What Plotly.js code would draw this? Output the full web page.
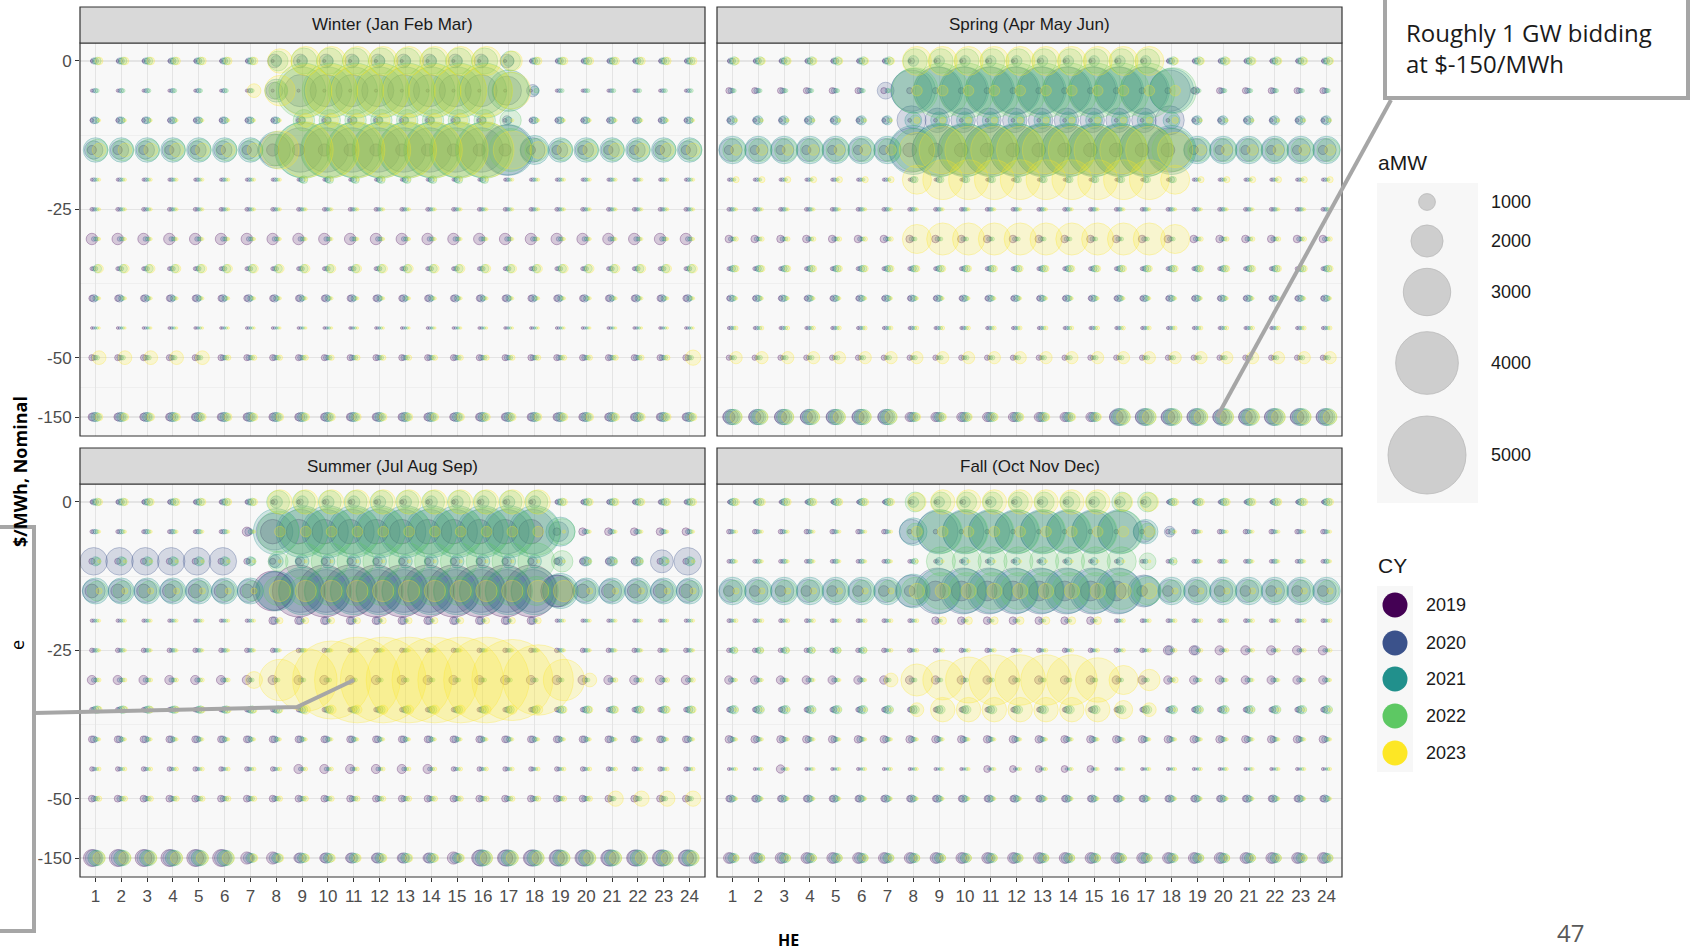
<!DOCTYPE html>
<html><head><meta charset="utf-8">
<script src="https://cdn.plot.ly/plotly-3.0.1.min.js"></script>
<style>html,body{margin:0;padding:0;background:#fff;overflow:hidden}#chart{width:1691px;height:951px}</style>
</head><body><div id="chart"></div>
<script>
// ---------- categories / labels ----------
const hours = [1,2,3,4,5,6,7,8,9,10,11,12,13,14,15,16,17,18,19,20,21,22,23,24];
const priceLevels = [0,-5,-10,-15,-20,-25,-30,-35,-40,-45,-50,-150];
const yTickPrices = [0,-25,-50,-150];
const yTickLabels = ['0','-25','-50','-150'];
const years = [2019,2020,2021,2022,2023];
const yearColors = ['#440154','#3B528B','#21908C','#5DC863','#FDE725'];
const sizeLegendValues = [1000,2000,3000,4000,5000];
const seasonTitles = ['Winter (Jan Feb Mar)','Spring (Apr May Jun)','Summer (Jul Aug Sep)','Fall (Oct Nov Dec)'];

// ---------- aMW by price level (rows) x hour ending (columns) ----------
const winter2019 = [
[100,100,100,100,100,100,100,100,100,100,100,100,100,100,100,100,100,100,100,100,100,100,100,100],
[100,100,100,100,100,100,100,100,100,100,100,100,100,100,100,100,100,100,100,100,100,100,100,100],
[150,150,150,150,150,150,150,150,150,150,150,150,150,150,150,150,150,150,150,150,150,150,150,150],
[500,500,500,500,500,500,500,700,700,700,700,700,700,700,700,700,700,500,500,500,500,500,500,500],
[100,100,100,100,100,100,100,100,100,100,100,100,100,100,100,100,100,100,100,100,100,100,100,100],
[150,150,150,150,150,150,150,150,150,150,150,150,150,150,150,150,150,150,150,150,150,150,150,150],
[650,650,650,650,650,650,650,650,650,650,650,650,650,650,650,650,650,650,650,650,650,650,650,650],
[150,150,150,150,150,150,150,150,150,150,150,150,150,150,150,150,150,150,150,150,150,150,150,150],
[300,300,300,300,300,300,300,300,300,300,300,300,300,300,300,300,300,300,300,300,300,300,300,300],
[80,80,80,80,80,80,80,80,80,80,80,80,80,80,80,80,80,80,80,80,80,80,80,80],
[300,300,300,300,300,300,300,300,300,300,300,300,300,300,300,300,300,300,300,300,300,300,300,300],
[400,400,400,400,400,400,400,400,400,400,400,400,400,400,400,400,400,400,400,400,400,400,400,400]];
const winter2020 = [
[300,300,300,300,300,300,300,800,800,800,800,800,800,800,800,800,800,300,300,300,300,300,300,300],
[150,150,150,150,150,150,150,1000,2000,2000,2000,2000,2000,2000,2000,2000,1800,700,150,150,150,150,150,150],
[350,350,350,350,350,350,350,350,500,500,500,500,500,500,500,500,500,350,350,350,350,350,350,350],
[1100,1100,1100,1100,1100,1100,1100,2000,2800,2800,2800,2800,2800,2800,2800,2800,3200,1500,1100,1100,1100,1100,1100,1100],
[150,150,150,150,150,150,150,150,150,150,150,150,150,150,150,150,150,150,150,150,150,150,150,150],
[150,150,150,150,150,150,150,150,150,150,150,150,150,150,150,150,150,150,150,150,150,150,150,150],
[200,200,200,200,200,200,200,200,200,200,200,200,200,200,200,200,200,200,200,200,200,200,200,200],
[200,200,200,200,200,200,200,200,200,200,200,200,200,200,200,200,200,200,200,200,200,200,200,200],
[400,400,400,400,400,400,400,400,400,400,400,400,400,400,400,400,400,400,400,400,400,400,400,400],
[80,80,80,80,80,80,80,80,80,80,80,80,80,80,80,80,80,80,80,80,80,80,80,80],
[250,250,250,250,250,250,250,250,250,250,250,250,250,250,250,250,250,250,250,250,250,250,250,250],
[500,500,500,500,500,500,500,500,500,500,500,500,500,500,500,500,500,500,500,500,500,500,500,500]];
const winter2021 = [
[300,300,300,300,300,300,300,600,600,600,600,600,600,600,600,600,600,300,300,300,300,300,300,300],
[200,200,200,200,200,200,200,1400,3000,3000,3000,3000,3000,3000,3000,3000,2600,500,150,150,150,150,150,150],
[350,350,350,350,350,350,350,350,350,350,350,350,350,350,350,350,350,350,350,350,350,350,350,350],
[1500,1500,1500,1500,1500,1500,1500,2300,3500,3500,3500,3500,3500,3500,3500,3500,3200,1800,1500,1500,1500,1500,1500,1500],
[120,120,120,120,120,120,120,120,300,300,300,300,300,300,300,300,120,120,120,120,120,120,120,120],
[120,120,120,120,120,120,120,120,120,120,120,120,120,120,120,120,120,120,120,120,120,120,120,120],
[150,150,150,150,150,150,150,150,150,150,150,150,150,150,150,150,150,150,150,150,150,150,150,150],
[200,200,200,200,200,200,200,200,200,200,200,200,200,200,200,200,200,200,200,200,200,200,200,200],
[250,250,250,250,250,250,250,250,250,250,250,250,250,250,250,250,250,250,250,250,250,250,250,250],
[60,60,60,60,60,60,60,60,60,60,60,60,60,60,60,60,60,60,60,60,60,60,60,60],
[200,200,200,200,200,200,200,200,200,200,200,200,200,200,200,200,200,200,200,200,200,200,200,200],
[500,500,500,500,500,500,500,500,500,500,500,500,500,500,500,500,500,500,500,500,500,500,500,500]];
const winter2022 = [
[400,400,400,400,400,400,400,1200,1600,1600,1600,1600,1600,1600,1600,1600,1200,400,400,400,400,400,400,400],
[150,150,150,150,150,150,150,1100,3500,3500,3500,3500,3500,3500,3500,3500,2300,200,150,150,150,150,150,150],
[200,200,200,200,200,200,200,200,1300,1300,1300,1300,1300,1300,1300,1300,1300,200,200,200,200,200,200,200],
[1300,1300,1300,1300,1300,1300,1300,2000,3600,3600,3600,3600,3600,3600,3600,3600,2700,1400,1300,1300,1300,1300,1300,1300],
[100,100,100,100,100,100,100,100,400,400,400,400,400,400,400,400,100,100,100,100,100,100,100,100],
[120,120,120,120,120,120,120,120,120,120,120,120,120,120,120,120,120,120,120,120,120,120,120,120],
[150,150,150,150,150,150,150,150,150,150,150,150,150,150,150,150,150,150,150,150,150,150,150,150],
[450,450,450,450,450,450,450,450,450,450,450,450,450,450,450,450,450,450,450,450,450,450,450,450],
[150,150,150,150,150,150,150,150,150,150,150,150,150,150,150,150,150,150,150,150,150,150,150,150],
[60,60,60,60,60,60,60,60,60,60,60,60,60,60,60,60,60,60,60,60,60,60,60,60],
[200,200,200,200,200,200,200,200,200,200,200,200,200,200,200,200,200,200,200,200,200,200,200,200],
[450,450,450,450,450,450,450,450,450,450,450,450,450,450,450,450,450,450,450,450,450,450,450,450]];
const winter2023 = [
[400,400,400,400,400,400,400,1500,1800,1800,1800,1800,1800,1800,1800,1800,1200,400,400,400,400,400,400,400],
[0,0,0,0,0,0,800,1900,3300,3300,3300,3300,3300,3300,3300,3300,2300,0,0,0,0,0,0,0],
[100,100,100,100,100,100,100,100,800,800,800,800,800,800,800,800,100,100,100,100,100,100,100,100],
[800,800,800,800,800,800,800,2400,3500,3500,3500,3500,3500,3500,3500,3500,2400,1000,800,800,800,800,800,800],
[100,100,100,100,100,100,100,100,100,100,100,100,100,100,100,100,100,100,100,100,100,100,100,100],
[100,100,100,100,100,100,100,100,100,100,100,100,100,100,100,100,100,100,100,100,100,100,100,100],
[100,100,100,100,100,100,100,100,100,100,100,100,100,100,100,100,100,100,100,100,100,100,100,100],
[450,450,450,450,450,450,450,450,450,450,450,450,450,450,450,450,450,450,450,450,450,450,450,450],
[100,100,100,100,100,100,100,100,100,100,100,100,100,100,100,100,100,100,100,100,100,100,100,100],
[60,60,60,60,60,60,60,60,60,60,60,60,60,60,60,60,60,60,60,60,60,60,60,60],
[800,800,800,800,800,250,250,250,250,250,250,250,250,250,250,250,250,250,250,250,250,250,250,900],
[400,400,400,400,400,400,400,400,400,400,400,400,400,400,400,400,400,400,400,400,400,400,400,400]];

const spring2019 = [
[100,100,100,100,100,100,100,100,100,100,100,100,100,100,100,100,100,100,100,100,100,100,100,100],
[300,300,300,300,300,300,300,300,300,300,300,300,300,300,300,300,300,300,300,300,300,300,300,300],
[150,150,150,150,150,150,150,150,150,150,150,150,150,150,150,150,150,150,150,150,150,150,150,150],
[500,500,500,500,500,500,500,800,800,800,800,800,800,800,800,800,800,800,500,500,500,500,500,500],
[100,100,100,100,100,100,100,100,100,100,100,100,100,100,100,100,100,100,100,100,100,100,100,100],
[150,150,150,150,150,150,150,150,150,150,150,150,150,150,150,150,150,150,150,150,150,150,150,150],
[400,400,400,400,400,400,400,400,400,400,400,400,400,400,400,400,400,400,400,400,400,400,400,400],
[150,150,150,150,150,150,150,150,150,150,150,150,150,150,150,150,150,150,150,150,150,150,150,150],
[200,200,200,200,200,200,200,200,200,200,200,200,200,200,200,200,200,200,200,200,200,200,200,200],
[100,100,100,100,100,100,100,100,100,100,100,100,100,100,100,100,100,100,100,100,100,100,100,100],
[250,250,250,250,250,250,250,250,250,250,250,250,250,250,250,250,250,250,250,250,250,250,250,250],
[700,700,700,700,700,700,700,500,500,500,500,500,500,500,500,800,800,800,800,800,800,800,800,800]];
const spring2020 = [
[300,300,300,300,300,300,300,300,300,300,300,300,300,300,300,300,300,300,300,300,300,300,300,300],
[250,250,250,250,250,250,1000,2600,3000,3000,3000,3000,3000,3000,3000,3000,3000,2600,400,250,250,250,250,250],
[400,400,400,400,400,400,400,1800,1500,1500,1500,1500,1500,1500,1500,1500,1500,1800,400,400,400,400,400,400],
[1400,1400,1400,1400,1400,1400,1400,2800,3200,3200,3200,3200,3200,3200,3200,3200,3200,2800,1400,1400,1400,1400,1400,1400],
[150,150,150,150,150,150,150,150,150,150,150,150,150,150,150,150,150,150,150,150,150,150,150,150],
[150,150,150,150,150,150,150,150,150,150,150,150,150,150,150,150,150,150,150,150,150,150,150,150],
[200,200,200,200,200,200,200,200,200,200,200,200,200,200,200,200,200,200,200,200,200,200,200,200],
[200,200,200,200,200,200,200,200,200,200,200,200,200,200,200,200,200,200,200,200,200,200,200,200],
[350,350,350,350,350,350,350,350,350,350,350,350,350,350,350,350,350,350,350,350,350,350,350,350],
[150,150,150,150,150,150,150,150,150,150,150,150,150,150,150,150,150,150,150,150,150,150,150,150],
[150,150,150,150,150,150,150,150,150,150,150,150,150,150,150,150,150,150,150,150,150,150,150,150],
[900,900,900,900,900,900,900,500,500,500,500,500,500,500,500,1000,1000,1000,1000,1000,1000,1000,1000,1000]];
const spring2021 = [
[300,300,300,300,300,300,300,600,600,600,600,600,600,600,600,600,600,300,300,300,300,300,300,300],
[200,200,200,200,200,200,200,2800,3000,3000,3000,3000,3000,3000,3000,3000,3000,2800,200,200,200,200,200,200],
[500,500,500,500,500,500,500,1000,1000,1000,1000,1000,1000,1000,1000,1000,1000,1000,500,500,500,500,500,500],
[1700,1700,1700,1700,1700,1700,1700,3100,3400,3400,3400,3400,3400,3400,3400,3400,3400,3100,1700,1700,1700,1700,1700,1700],
[100,100,100,100,100,100,100,300,300,300,300,300,300,300,300,300,300,300,100,100,100,100,100,100],
[150,150,150,150,150,150,150,150,150,150,150,150,150,150,150,150,150,150,150,150,150,150,150,150],
[150,150,150,150,150,150,150,150,150,150,150,150,150,150,150,150,150,150,150,150,150,150,150,150],
[300,300,300,300,300,300,300,300,300,300,300,300,300,300,300,300,300,300,300,300,300,300,300,300],
[300,300,300,300,300,300,300,300,300,300,300,300,300,300,300,300,300,300,300,300,300,300,300,300],
[100,100,100,100,100,100,100,100,100,100,100,100,100,100,100,100,100,100,100,100,100,100,100,100],
[150,150,150,150,150,150,150,150,150,150,150,150,150,150,150,150,150,150,150,150,150,150,150,150],
[900,900,900,900,900,900,900,500,500,500,500,500,500,500,500,1000,1000,1000,1000,1000,1000,1000,1000,1000]];
const spring2022 = [
[450,450,450,450,450,450,450,1500,1500,1500,1500,1500,1500,1500,1500,1500,1500,450,450,450,450,450,450,450],
[150,150,150,150,150,150,150,2900,3500,3500,3500,3500,3500,3500,3500,3500,3500,2900,150,150,150,150,150,150],
[200,200,200,200,200,200,200,600,600,600,600,600,600,600,600,600,600,600,200,200,200,200,200,200],
[1400,1400,1400,1400,1400,1400,1400,2700,3300,3300,3300,3300,3300,3300,3300,3300,3300,2700,1400,1400,1400,1400,1400,1400],
[100,100,100,100,100,100,100,300,300,300,300,300,300,300,300,300,300,300,100,100,100,100,100,100],
[120,120,120,120,120,120,120,120,120,120,120,120,120,120,120,120,120,120,120,120,120,120,120,120],
[150,150,150,150,150,150,150,150,150,150,150,150,150,150,150,150,150,150,150,150,150,150,150,150],
[350,350,350,350,350,350,350,350,350,350,350,350,350,350,350,350,350,350,350,350,350,350,350,350],
[200,200,200,200,200,200,200,200,200,200,200,200,200,200,200,200,200,200,200,200,200,200,200,200],
[120,120,120,120,120,120,120,120,120,120,120,120,120,120,120,120,120,120,120,120,120,120,120,120],
[200,200,200,200,200,200,200,200,200,200,200,200,200,200,200,200,200,200,200,200,200,200,200,200],
[900,900,900,900,900,900,900,500,500,500,500,500,500,500,500,1000,1000,1000,1000,1000,1000,1000,1000,1000]];
const spring2023 = [
[350,350,350,350,350,350,350,1800,1800,1800,1800,1800,1800,1800,1800,1800,1800,350,350,350,350,350,350,350],
[0,0,0,0,0,0,0,600,600,600,600,600,600,600,600,600,600,600,0,0,0,0,0,0],
[100,100,100,100,100,100,100,300,300,300,300,300,300,300,300,300,300,300,100,100,100,100,100,100],
[600,600,600,600,600,600,600,2200,3000,3000,3000,3000,3000,3000,3000,3000,3000,2200,600,600,600,600,600,600],
[300,300,300,300,300,300,300,1800,2500,2500,2500,2500,2500,2500,2500,2500,2500,1800,300,300,300,300,300,300],
[100,100,100,100,100,100,100,100,100,100,100,100,100,100,100,100,100,100,100,100,100,100,100,100],
[200,200,200,200,200,200,200,1800,2000,2000,2000,2000,2000,2000,2000,2000,2000,1800,200,200,200,200,200,200],
[300,300,300,300,300,300,300,300,300,300,300,300,300,300,300,300,300,300,300,300,300,300,300,300],
[100,100,100,100,100,100,100,100,100,100,100,100,100,100,100,100,100,100,100,100,100,100,100,100],
[150,150,150,150,150,150,150,150,150,150,150,150,150,150,150,150,150,150,150,150,150,150,150,150],
[700,700,700,700,700,700,700,700,700,700,700,700,700,700,700,700,700,700,700,700,700,700,700,700],
[700,700,700,700,700,700,700,400,400,400,400,400,400,400,400,800,800,800,800,800,800,800,800,800]];

const summer2019 = [
[150,150,150,150,150,150,150,150,150,150,150,150,150,150,150,150,150,150,150,150,150,150,150,150],
[150,150,150,150,150,150,500,1500,1500,1500,1500,1500,1500,1500,1500,1500,1500,1500,400,400,400,400,400,400],
[300,300,300,300,300,300,300,300,300,300,300,300,300,300,300,300,300,300,300,300,300,300,300,300],
[800,800,800,800,800,800,800,2500,3300,3300,3300,3300,3300,3300,3300,3300,3300,3300,2000,800,800,800,800,800],
[120,120,120,120,120,120,120,400,400,400,400,400,400,400,400,400,400,400,120,120,120,120,120,120],
[200,200,200,200,200,200,200,200,200,200,200,200,200,200,200,200,200,200,200,200,200,200,200,200],
[500,500,500,500,500,500,500,500,500,500,500,500,500,500,500,500,500,500,500,500,500,500,500,500],
[200,200,200,200,200,200,200,200,200,200,200,200,200,200,200,200,200,200,200,200,200,200,200,200],
[350,350,350,350,350,350,350,350,350,350,350,350,350,350,350,350,350,350,350,350,350,350,350,350],
[200,200,200,200,200,200,200,200,500,500,500,500,500,500,200,200,200,200,200,200,200,200,200,200],
[350,350,350,350,350,350,350,350,350,350,350,350,350,350,350,350,350,350,350,350,350,350,350,350],
[1000,1000,1000,1000,1000,1000,700,700,500,500,500,500,500,500,700,900,900,900,900,900,900,900,900,900]];
const summer2020 = [
[300,300,300,300,300,300,300,300,300,300,300,300,300,300,300,300,300,300,300,300,300,300,300,300],
[200,200,200,200,200,200,400,2300,2800,2800,2800,2800,2800,2800,2800,2800,2800,2800,1200,200,200,200,200,200],
[1700,1700,1700,1700,1700,1700,200,700,500,500,500,500,500,500,500,500,500,500,400,500,500,500,1400,1700],
[1400,1400,1400,1400,1400,1400,1400,2400,2700,2700,2700,2700,2700,2700,2700,2700,2700,2700,2000,1400,1400,1400,1400,1400],
[120,120,120,120,120,120,120,400,400,400,400,400,400,400,400,400,400,400,120,120,120,120,120,120],
[150,150,150,150,150,150,150,150,150,150,150,150,150,150,150,150,150,150,150,150,150,150,150,150],
[200,200,200,200,200,200,200,200,200,200,200,200,200,200,200,200,200,200,200,200,200,200,200,200],
[250,250,250,250,250,250,250,250,250,250,250,250,250,250,250,250,250,250,250,250,250,250,250,250],
[350,350,350,350,350,350,350,350,350,350,350,350,350,350,350,350,350,350,350,350,350,350,350,350],
[150,150,150,150,150,150,150,150,150,150,150,150,150,150,150,150,150,150,150,150,150,150,150,150],
[250,250,250,250,250,250,250,250,250,250,250,250,250,250,250,250,250,250,250,250,250,250,250,250],
[1000,1000,1000,1000,1000,1000,600,600,600,600,600,600,600,600,600,1000,1000,1000,1000,1000,1000,1000,1000,1000]];
const summer2021 = [
[300,300,300,300,300,300,300,700,700,700,700,700,700,700,700,700,700,700,300,300,300,300,300,300],
[200,200,200,200,200,200,200,2900,3300,3300,3300,3300,3300,3300,3300,3300,3300,3300,1800,200,200,200,200,200],
[500,500,500,500,500,500,500,800,800,800,800,800,800,800,800,800,800,800,500,500,500,500,500,500],
[1600,1600,1600,1600,1600,1600,1600,2500,3000,3000,3000,3000,3000,3000,3000,3000,3000,3000,2200,1600,1600,1600,1600,1600],
[100,100,100,100,100,100,100,100,100,100,100,100,100,100,100,100,100,100,100,100,100,100,100,100],
[150,150,150,150,150,150,150,150,150,150,150,150,150,150,150,150,150,150,150,150,150,150,150,150],
[150,150,150,150,150,150,150,150,150,150,150,150,150,150,150,150,150,150,150,150,150,150,150,150],
[350,350,350,350,350,350,350,350,350,350,350,350,350,350,350,350,350,350,350,350,350,350,350,350],
[200,200,200,200,200,200,200,200,200,200,200,200,200,200,200,200,200,200,200,200,200,200,200,200],
[100,100,100,100,100,100,100,100,100,100,100,100,100,100,100,100,100,100,100,100,100,100,100,100],
[200,200,200,200,200,200,200,200,200,200,200,200,200,200,200,200,200,200,200,200,200,200,200,200],
[900,900,900,900,900,900,500,500,500,500,500,500,500,500,500,900,900,900,900,900,900,900,900,900]];
const summer2022 = [
[400,400,400,400,400,400,400,1400,1400,1400,1400,1400,1400,1400,1400,1400,1400,1400,400,400,400,400,400,400],
[150,150,150,150,150,150,150,2600,3000,3000,3000,3000,3000,3000,3000,3000,3000,3000,1600,150,150,150,150,150],
[400,400,400,400,400,400,400,1200,2300,2300,2300,2300,2300,2300,2300,2300,2300,2300,1300,400,400,400,400,400],
[1200,1200,1200,1200,1200,1200,1200,1800,1800,1800,1800,1800,1800,1800,1800,1800,1800,1800,1800,1200,1200,1200,1200,1200],
[100,100,100,100,100,100,100,100,100,100,100,100,100,100,100,100,100,100,100,100,100,100,100,100],
[150,150,150,150,150,150,150,150,150,150,150,150,150,150,150,150,150,150,150,150,150,150,150,150],
[150,150,150,150,150,150,150,150,150,150,150,150,150,150,150,150,150,150,150,150,150,150,150,150],
[400,400,400,400,400,400,400,400,400,400,400,400,400,400,400,400,400,400,400,400,400,400,400,400],
[150,150,150,150,150,150,150,150,150,150,150,150,150,150,150,150,150,150,150,150,150,150,150,150],
[100,100,100,100,100,100,100,100,100,100,100,100,100,100,100,100,100,100,100,100,100,100,100,100],
[200,200,200,200,200,200,200,200,200,200,200,200,200,200,200,200,200,200,200,200,200,200,200,200],
[900,900,900,900,900,900,500,500,500,500,500,500,500,500,500,900,900,900,900,900,900,900,900,900]];
const summer2023 = [
[350,350,350,350,350,350,350,1500,1500,1500,1500,1500,1500,1500,1500,1500,1500,1500,350,350,350,350,350,350],
[100,100,100,100,100,100,100,600,600,600,600,600,600,600,600,600,600,600,100,100,100,100,100,100],
[100,100,100,100,100,100,100,100,100,100,100,100,100,100,100,100,100,100,100,100,100,100,100,100],
[300,300,300,300,300,300,300,1300,1300,1300,1300,1300,1300,1300,1300,1300,1300,1300,1300,300,300,300,300,300],
[100,100,100,100,100,100,100,300,300,300,300,300,300,300,300,300,300,300,100,100,100,100,100,100],
[100,100,100,100,100,100,100,100,100,100,100,100,100,100,100,100,100,100,100,100,100,100,100,100],
[150,150,150,150,150,150,1000,2600,4000,5000,5500,5500,5500,5500,5500,5500,5200,4500,2600,800,200,200,200,200],
[300,300,300,300,300,300,300,300,500,500,500,500,500,500,500,500,500,500,300,300,300,300,300,300],
[100,100,100,100,100,100,100,100,100,100,100,100,100,100,100,100,100,100,100,100,100,100,100,100],
[150,150,150,150,150,150,150,150,150,150,150,150,150,150,150,150,150,150,150,150,150,150,150,150],
[250,250,250,250,250,250,250,250,250,250,250,250,250,250,250,250,250,250,250,250,900,900,900,900],
[700,700,700,700,700,700,400,400,400,400,400,400,400,400,400,700,700,700,700,700,700,700,700,700]];

const fall2019 = [
[100,100,100,100,100,100,100,100,100,100,100,100,100,100,100,100,100,100,100,100,100,100,100,100],
[200,200,200,200,200,200,200,200,200,200,200,200,200,200,200,200,200,200,200,200,200,200,200,200],
[150,150,150,150,150,150,150,150,150,150,150,150,150,150,150,150,150,150,150,150,150,150,150,150],
[600,600,600,600,600,600,600,600,1200,1200,1200,1200,1200,1200,1200,1200,600,600,600,600,600,600,600,600],
[150,150,150,150,150,150,150,150,400,400,400,400,400,400,400,150,150,150,150,150,150,150,150,150],
[200,200,200,200,200,200,200,200,200,200,200,200,200,200,200,200,200,500,500,500,500,500,500,500],
[450,450,450,450,450,450,450,450,450,450,450,450,450,450,450,450,450,450,450,450,450,450,450,450],
[200,200,200,200,200,200,200,200,200,200,200,200,200,200,200,200,200,200,200,200,200,200,200,200],
[400,400,400,400,400,400,400,400,400,400,400,400,400,400,400,400,400,400,400,400,400,400,400,400],
[100,100,450,100,100,100,100,100,100,100,350,350,350,350,350,100,100,100,100,100,100,100,100,100],
[300,300,300,300,300,300,300,300,300,300,300,300,300,300,300,300,300,300,300,300,300,300,300,300],
[600,600,600,600,600,600,600,600,600,600,600,600,600,600,600,600,600,600,600,600,600,600,600,600]];
const fall2020 = [
[250,250,250,250,250,250,250,250,250,250,250,250,250,250,250,250,250,250,250,250,250,250,250,250],
[200,200,200,200,200,200,200,1500,2600,2600,2600,2600,2600,2600,2600,2600,1300,600,200,200,200,200,200,200],
[150,150,150,150,150,150,150,150,150,150,150,150,150,150,150,150,150,150,150,150,150,150,150,150],
[1400,1400,1400,1400,1400,1400,1400,2000,2900,2900,2900,2900,2900,2900,2900,2900,2000,1400,1400,1400,1400,1400,1400,1400],
[150,150,150,150,150,150,150,150,150,150,150,150,150,150,150,150,150,150,150,150,150,150,150,150],
[150,150,150,150,150,150,150,150,150,150,150,150,150,150,150,150,150,500,500,150,150,150,150,150],
[200,200,200,200,200,200,200,200,200,200,200,200,200,200,200,200,200,200,200,200,200,200,200,200],
[300,300,300,300,300,300,300,300,300,300,300,300,300,300,300,300,300,300,300,300,300,300,300,300],
[300,300,300,300,300,300,300,300,300,300,300,300,300,300,300,300,300,300,300,300,300,300,300,300],
[80,80,80,80,80,80,80,80,80,80,80,80,80,80,80,80,80,80,80,80,80,80,80,80],
[400,400,400,400,400,400,400,400,400,400,400,400,400,400,400,400,400,400,400,400,400,400,400,400],
[600,600,600,600,600,600,600,600,600,600,600,600,600,600,600,600,600,600,600,600,600,600,600,600]];
const fall2021 = [
[350,350,350,350,350,350,350,600,600,600,600,600,600,600,600,600,600,350,350,350,350,350,350,350],
[150,150,150,150,150,150,150,1700,2800,2800,2800,2800,2800,2800,2800,2800,1500,300,150,150,150,150,150,150],
[200,200,200,200,200,200,200,200,400,400,400,400,400,400,400,400,200,200,200,200,200,200,200,200],
[1700,1700,1700,1700,1700,1700,1700,2100,2800,2800,2800,2800,2800,2800,2800,2800,1900,1700,1700,1700,1700,1700,1700,1700],
[100,100,100,100,100,100,100,100,100,100,100,100,100,100,100,100,100,100,100,100,100,100,100,100],
[250,250,250,250,250,250,100,100,100,100,100,100,100,100,100,100,100,100,100,100,100,100,100,100],
[150,150,150,150,150,150,150,150,150,150,150,150,150,150,150,150,150,150,150,150,150,150,150,150],
[400,400,400,400,400,400,400,400,400,400,400,400,400,400,400,400,400,400,400,400,400,400,400,400],
[200,200,200,200,200,200,200,200,200,200,200,200,200,200,200,200,200,200,200,200,200,200,200,200],
[60,60,60,60,60,60,60,60,60,60,60,60,60,60,60,60,60,60,60,60,60,60,60,60],
[300,300,300,300,300,300,300,300,300,300,300,300,300,300,300,300,300,300,300,300,300,300,300,300],
[500,500,500,500,500,500,500,500,500,500,500,500,500,500,500,500,500,500,500,500,500,500,500,500]];
const fall2022 = [
[400,400,400,400,400,400,400,1200,1200,1200,1200,1200,1200,1200,1200,1200,1200,400,400,400,400,400,400,400],
[100,100,100,100,100,100,100,1000,2700,2700,2700,2700,2700,2700,2700,2700,1000,100,100,100,100,100,100,100],
[150,150,150,150,150,150,150,300,1800,1800,1800,1800,1800,1800,1800,1800,1000,400,150,150,150,150,150,150],
[1300,1300,1300,1300,1300,1300,1300,1700,2300,2300,2300,2300,2300,2300,2300,2300,1700,1300,1300,1300,1300,1300,1300,1300],
[100,100,100,100,100,100,100,100,100,100,100,100,100,100,100,100,100,100,100,100,100,100,100,100],
[350,350,350,350,350,350,100,100,100,100,100,100,100,100,100,100,100,100,100,100,100,100,100,100],
[150,150,150,150,150,150,150,150,150,150,150,150,150,150,150,150,150,150,150,150,150,150,150,150],
[450,450,450,450,450,450,450,450,450,450,450,450,450,450,450,450,450,450,450,450,450,450,450,450],
[150,150,150,150,150,150,150,150,150,150,150,150,150,150,150,150,150,150,150,150,150,150,150,150],
[100,100,100,100,100,100,100,100,100,100,100,100,100,100,100,100,100,100,100,100,100,100,100,100],
[200,200,200,200,200,200,200,200,200,200,200,200,200,200,200,200,200,200,200,200,200,200,200,200],
[500,500,500,500,500,500,500,500,500,500,500,500,500,500,500,500,500,500,500,500,500,500,500,500]];
const fall2023 = [
[350,350,350,350,350,350,350,1100,1500,1500,1500,1500,1500,1500,1500,1100,1100,350,350,350,350,350,350,350],
[100,100,100,100,100,100,100,600,600,600,600,600,600,600,600,600,600,100,100,100,100,100,100,100],
[100,100,100,100,100,100,100,100,100,100,100,100,100,100,100,100,100,100,100,100,100,100,100,100],
[300,300,300,300,300,300,300,900,900,900,900,900,900,900,900,900,900,300,300,300,300,300,300,300],
[150,150,150,150,150,150,150,150,400,400,400,400,400,400,400,150,150,150,150,150,150,150,150,150],
[150,150,150,150,150,150,150,150,150,150,150,150,150,150,150,150,150,150,150,150,150,150,150,150],
[100,100,100,100,100,100,800,2000,2500,2900,3200,3200,3200,3200,2800,1800,1300,300,100,100,100,100,100,100],
[150,150,150,150,150,150,150,800,1500,1500,1500,1500,1500,1500,1500,1100,800,150,150,150,150,150,150,150],
[100,100,100,100,100,100,100,100,100,100,100,100,100,100,100,100,100,100,100,100,100,100,100,100],
[100,100,100,100,100,100,100,100,100,100,100,100,100,100,100,100,100,100,100,100,100,100,100,100],
[100,100,100,100,100,100,100,100,100,100,100,100,100,100,100,100,100,100,100,100,100,100,100,100],
[300,300,300,300,300,300,300,300,300,300,300,300,300,300,300,300,300,300,300,300,300,300,300,300]];

const seasonData = [
  [winter2019, winter2020, winter2021, winter2022, winter2023],
  [spring2019, spring2020, spring2021, spring2022, spring2023],
  [summer2019, summer2020, summer2021, summer2022, summer2023],
  [fall2019, fall2020, fall2021, fall2022, fall2023]
];

// ---------- layout geometry (pixels) ----------
const W = 1691, H = 951;
const X = p => p / W, Y = p => 1 - p / H;
const panelBoxes = [[80,705,43,436],[717,1342,43,436],[80,705,484,877],[717,1342,484,877]];
const stripH = 36;
const pos = p => (p === -150 ? -60 : p);             // -150 sits two steps below -50
const diam = v => (v > 0 ? 1.5 + v * 0.0153 : 0);    // bubble diameter (px) from aMW
const dodge = i => (i - 2) * 0.07;
const rgba = (hex, a) => {
  const n = parseInt(hex.slice(1), 16);
  return `rgba(${(n >> 16) & 255},${(n >> 8) & 255},${n & 255},${a})`;
};

const FONT = 'Liberation Sans, Arial, sans-serif';
const traces = [];
const layout = {
  width: W, height: H, margin: {l:0,r:0,t:0,b:0},
  paper_bgcolor: '#ffffff', plot_bgcolor: 'rgba(0,0,0,0)',
  showlegend: false, font: {family: FONT, color: '#4D4D4D'},
  shapes: [], annotations: []
};

panelBoxes.forEach((b, k) => {
  const sfx = k === 0 ? '' : String(k + 1);
  const [x0, x1, y0, y1] = b;
  const bottomRow = k >= 2, leftCol = (k % 2 === 0);
  layout['xaxis' + sfx] = {
    domain: [X(x0), X(x1)], anchor: 'y' + sfx, range: [0.4, 24.6],
    tickmode: 'array', tickvals: hours, ticktext: hours.map(String),
    showticklabels: bottomRow, ticks: bottomRow ? 'outside' : '', ticklen: 4, tickcolor: '#333333',
    tickfont: {family: FONT, size: 17, color: '#4D4D4D'},
    showgrid: true, gridcolor: '#E4E4E4', gridwidth: 1, zeroline: false, showline: false, fixedrange: true
  };
  layout['yaxis' + sfx] = {
    domain: [Y(y1), Y(y0)], anchor: 'x' + sfx, range: [-63.2, 3.03],
    tickmode: 'array', tickvals: yTickPrices.map(pos), ticktext: yTickLabels,
    showticklabels: leftCol, ticks: leftCol ? 'outside' : '', ticklen: 4, tickcolor: '#333333',
    tickfont: {family: FONT, size: 17, color: '#4D4D4D'},
    showgrid: true, gridcolor: '#E4E4E4', gridwidth: 1.2, zeroline: false, showline: false, fixedrange: true,
    minor: {tickmode: 'array', tickvals: [-12.5, -37.5, -55], showgrid: true, gridcolor: '#EFEFEF', gridwidth: 1, ticks: ''}
  };
  layout.shapes.push({type:'rect', xref:'paper', yref:'paper', x0:X(x0), x1:X(x1), y0:Y(y1), y1:Y(y0),
    fillcolor:'#F8F8F8', line:{width:0}, layer:'below'});
  layout.shapes.push({type:'rect', xref:'paper', yref:'paper', x0:X(x0), x1:X(x1), y0:Y(y1), y1:Y(y0),
    fillcolor:'rgba(0,0,0,0)', line:{color:'#333333', width:1.2}, layer:'above'});
  layout.shapes.push({type:'rect', xref:'paper', yref:'paper', x0:X(x0), x1:X(x1), y0:Y(y0), y1:Y(y0 - stripH),
    fillcolor:'#D9D9D9', line:{color:'#333333', width:1.2}, layer:'above'});
  layout.annotations.push({xref:'paper', yref:'paper', x:X((x0 + x1) / 2), y:Y(y0 - stripH / 2),
    text: seasonTitles[k], showarrow:false, xanchor:'center', yanchor:'middle',
    font:{family: FONT, size: 17, color:'#1A1A1A'}});

  seasonData[k].forEach((mat, i) => {
    const xs = [], ys = [], ss = [], tx = [];
    priceLevels.forEach((p, r) => {
      hours.forEach((h, c) => {
        const v = mat[r][c];
        xs.push(h + dodge(i)); ys.push(pos(p)); ss.push(diam(v));
        tx.push('HE ' + h + ', $' + p + ', ' + v + ' aMW');
      });
    });
    traces.push({type:'scatter', mode:'markers', xaxis:'x' + sfx, yaxis:'y' + sfx,
      x: xs, y: ys, text: tx, hoverinfo:'text', name: String(years[i]),
      marker:{size: ss, sizemode:'diameter', color: rgba(yearColors[i], 0.27),
              line:{width: 0.9, color: rgba(yearColors[i], 0.5)}}});
  });
});

// ---------- legends on an overlay pixel axis ----------
layout.xaxis5 = {domain:[0,1], range:[0,W], visible:false, fixedrange:true, anchor:'y5'};
layout.yaxis5 = {domain:[0,1], range:[H,0], visible:false, fixedrange:true, anchor:'x5'};
const sizeKeyY = [202, 241, 292, 363, 455];
const yearKeyY = [605, 643, 679, 716, 753];
layout.shapes.push({type:'rect', xref:'paper', yref:'paper', x0:X(1377), x1:X(1478), y0:Y(503), y1:Y(183),
  fillcolor:'#F7F7F7', line:{width:0}, layer:'below'});
layout.shapes.push({type:'rect', xref:'paper', yref:'paper', x0:X(1377), x1:X(1413), y0:Y(772), y1:Y(586),
  fillcolor:'#F7F7F7', line:{width:0}, layer:'below'});
traces.push({type:'scatter', mode:'markers', xaxis:'x5', yaxis:'y5', hoverinfo:'skip',
  x: sizeLegendValues.map(() => 1427), y: sizeKeyY,
  marker:{size: sizeLegendValues.map(diam), sizemode:'diameter', color:'#BDBDBD', line:{color:'#A0A0A0', width:0.8}}});
traces.push({type:'scatter', mode:'markers', xaxis:'x5', yaxis:'y5', hoverinfo:'skip',
  x: years.map(() => 1395), y: yearKeyY,
  marker:{size: 25, color: yearColors, line:{width:0}}});
layout.annotations.push({xref:'paper', yref:'paper', x:X(1376), y:Y(162), text:'aMW', showarrow:false,
  xanchor:'left', yanchor:'middle', font:{family: FONT, size: 21, color:'#1A1A1A'}});
sizeLegendValues.forEach((v, i) => layout.annotations.push({xref:'paper', yref:'paper', x:X(1489), y:Y(sizeKeyY[i]),
  text:String(v), showarrow:false, xanchor:'left', yanchor:'middle', font:{family: FONT, size: 18, color:'#1A1A1A'}}));
layout.annotations.push({xref:'paper', yref:'paper', x:X(1376), y:Y(565), text:'CY', showarrow:false,
  xanchor:'left', yanchor:'middle', font:{family: FONT, size: 21, color:'#1A1A1A'}});
years.forEach((yv, i) => layout.annotations.push({xref:'paper', yref:'paper', x:X(1424), y:Y(yearKeyY[i]),
  text:String(yv), showarrow:false, xanchor:'left', yanchor:'middle', font:{family: FONT, size: 18, color:'#1A1A1A'}}));

// ---------- axis titles and page text ----------
const SLIDE = 'Open Sans, Noto Sans, sans-serif';
layout.annotations.push({xref:'paper', yref:'paper', x:X(20), y:Y(472), text:'<b>$/MWh, Nominal</b>', textangle:-90,
  showarrow:false, xanchor:'center', yanchor:'middle', font:{family: SLIDE, size: 18, color:'#000000'}});
layout.annotations.push({xref:'paper', yref:'paper', x:X(788), y:Y(940), text:'<b>HE</b>', showarrow:false,
  xanchor:'center', yanchor:'middle', font:{family: SLIDE, size: 16, color:'#000000'}});
layout.annotations.push({xref:'paper', yref:'paper', x:X(1570), y:Y(932), text:'47', showarrow:false,
  xanchor:'center', yanchor:'middle', font:{family: SLIDE, size: 24, color:'#595959'}});
layout.annotations.push({xref:'paper', yref:'paper', x:X(17), y:Y(645), text:'e', textangle:-90, showarrow:false,
  xanchor:'center', yanchor:'middle', font:{family: SLIDE, size: 18, color:'#000000'}});

// callout box (top right)
layout.shapes.push({type:'rect', xref:'paper', yref:'paper', x0:X(1385), x1:X(1688), y0:Y(98), y1:Y(-10),
  fillcolor:'#FFFFFF', line:{color:'#A6A6A6', width:4}, layer:'above'});
layout.shapes.push({type:'line', xref:'paper', yref:'paper', x0:X(1391), y0:Y(100), x1:X(1217), y1:Y(417),
  line:{color:'#A6A6A6', width:4}, layer:'above'});
layout.annotations.push({xref:'paper', yref:'paper', x:X(1404), y:Y(48), showarrow:false, align:'left',
  xanchor:'left', yanchor:'middle', text:'Roughly 1 GW bidding<br>at $-150/MWh',
  font:{family: SLIDE, size: 24, color:'#1A1A1A'}});

// callout box (left, cut off) and its connector
layout.shapes.push({type:'path', xref:'paper', yref:'paper',
  path:`M ${X(-6)} ${Y(527)} L ${X(34)} ${Y(527)} L ${X(34)} ${Y(931)} L ${X(-6)} ${Y(931)}`,
  line:{color:'#A6A6A6', width:4}, layer:'above'});
layout.shapes.push({type:'path', xref:'paper', yref:'paper',
  path:`M ${X(34)} ${Y(713)} L ${X(297)} ${Y(707)} L ${X(354)} ${Y(680)}`,
  line:{color:'#A6A6A6', width:4}, layer:'above'});

Plotly.newPlot('chart', traces, layout, {staticPlot: true, displayModeBar: false});
</script>
</body></html>
